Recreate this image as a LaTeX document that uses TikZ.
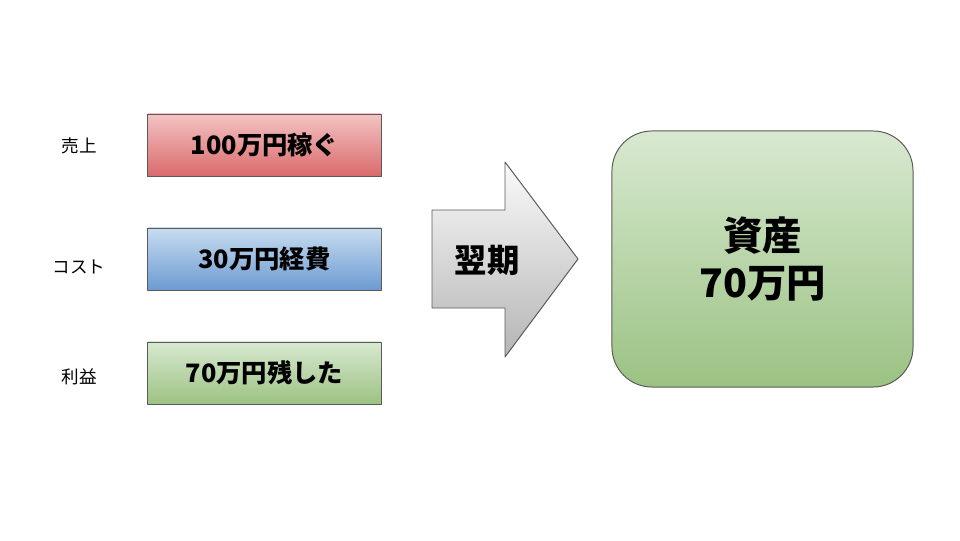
\documentclass[tikz,border=0pt]{standalone}
\usepackage{fontspec}
\setmainfont{Noto Sans CJK JP}
\usepackage{tikz}
\usetikzlibrary{positioning}

\definecolor{redtop}{HTML}{F4C3C3}
\definecolor{redbot}{HTML}{DA6A6C}
\definecolor{bluetop}{HTML}{C8DCF0}
\definecolor{bluebot}{HTML}{6C9BD2}
\definecolor{greentop}{HTML}{D8E9D0}
\definecolor{greenbot}{HTML}{9BC283}
\definecolor{arrowtop}{HTML}{FAFAFA}
\definecolor{arrowbot}{HTML}{B5B5B5}
\definecolor{edgegrey}{HTML}{5A5A5A}

\tikzset{
  itembox/.style={draw=edgegrey, line width=0.7pt, minimum width=5.825cm, minimum height=1.55cm, inner sep=0pt, font=\fontsize{18}{20}\selectfont\bfseries},
  itemlabel/.style={inner sep=0pt, font=\fontsize{12.5}{15}\selectfont},
}

\begin{document}
\begin{tikzpicture}[x=0.025cm, y=-0.025cm, line join=round]

\useasboundingbox (0,0) rectangle (960,540);

\node (sales) at (264.5, 145) [itembox, top color=redtop, bottom color=redbot] {100万円稼ぐ};
\node (cost) at (264.5, 259) [itembox, top color=bluetop, bottom color=bluebot] {30万円経費};
\node (profit) at (264.5, 373) [itembox, top color=greentop, bottom color=greenbot] {70万円残した};

\node (saleslabel) at (79, 146) [itemlabel] {売上};
\node (costlabel) at (79, 267) [itemlabel] {コスト};
\node (profitlabel) at (79, 377) [itemlabel] {利益};

% next-term arrow
\draw[draw=edgegrey, line width=0.7pt, top color=arrowtop, bottom color=arrowbot]
  (432,210) -- (505,210) -- (505,162) -- (578,259) -- (505,357) -- (505,308) -- (432,308) -- cycle;
\node (nextterm) at (487, 260) [inner sep=0pt, font=\fontsize{23}{25}\selectfont\bfseries] {翌期};

\node (assets) at (762.5, 259) [draw=edgegrey, line width=0.7pt, rounded corners=1cm, top color=greentop, bottom color=greenbot, minimum width=7.525cm, minimum height=6.4cm, align=center, font=\fontsize{28}{34}\selectfont\bfseries] {資産\\70万円};

\end{tikzpicture}
\end{document}
